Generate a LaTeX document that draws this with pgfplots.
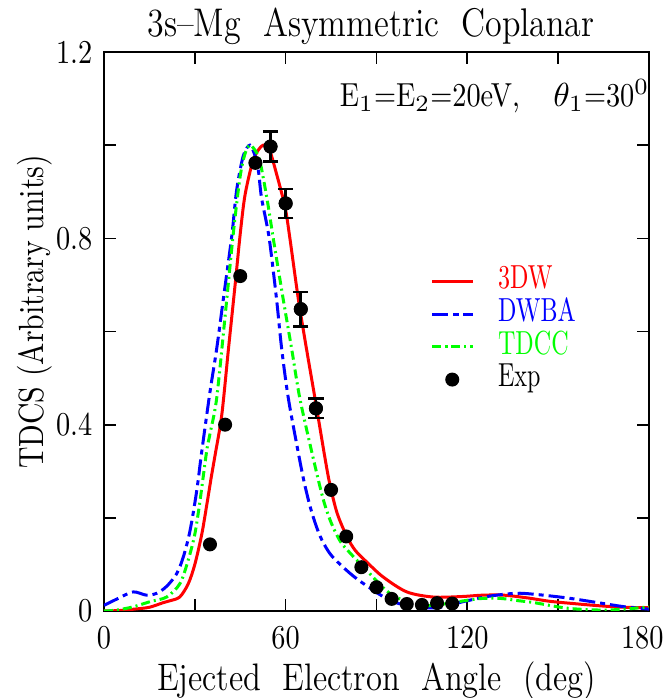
\documentclass[border=0pt]{standalone}
\usepackage{fontspec}
\setmainfont{Latin Modern Roman}[FakeStretch=0.85]
\usepackage{graphicx}
\usepackage{pgfplots}
\pgfplotsset{compat=1.18}
\newcommand{\narrow}[1]{\scalebox{0.85}[1]{#1}}
\begin{document}
\begin{tikzpicture}
\begin{axis}[
  scale only axis, width=163.5pt, height=167.7pt,
  xmin=0, xmax=180, ymin=0, ymax=1.2,
  clip mode=individual,
  xtick={0,30,60,90,120,150,180}, xticklabels={0,,60,,120,,\hspace*{-4pt}180},
  ytick={0,0.2,0.4,0.6,0.8,1.0,1.2}, yticklabels={0,,0.4,,0.8,,1.2},
  tick align=inside, major tick length=3.6pt,
  axis line style={line width=0.6pt},
  every tick/.style={black, line width=0.5pt},
  tick label style={font=\fontsize{10}{12}\selectfont},
  xticklabel style={yshift=-1.2pt},
  xlabel={Ejected\ \ Electron\ \ Angle\ \ (deg)},
  ylabel={TDCS (Arbitrary units)},
  xlabel style={font=\fontsize{11.5}{13}\selectfont, at={(axis description cs:0.5,0)}, anchor=base, yshift=-23.9pt},
  ylabel style={font=\fontsize{10.5}{13}\selectfont, at={(axis description cs:-0.127,0.535)}, anchor=center},
  title={3s--Mg\ \ Asymmetric\ \ Coplanar},
  title style={font=\fontsize{12}{14}\selectfont, at={(axis description cs:0.49,1)}, anchor=base, yshift=-1.2pt},
  legend style={at={(axis cs:104.4,0.758)}, anchor=north west, draw=none, fill=none,
    font=\fontsize{10}{10}\selectfont, row sep=0pt,
    nodes={inner ysep=0pt, inner xsep=0pt, text height=7.1pt, text depth=2.7pt},
    /tikz/every odd column/.append style={column sep=7.3pt}},
  legend cell align=left,
  legend image code/.code={\draw[mark repeat=2,mark phase=2,#1] plot coordinates {(0pt,0pt) (6pt,0pt) (12pt,0pt)};},
]
% 3DW
\addplot[red, line width=0.9pt, smooth] coordinates {
(0,0) (5,0.001) (10,0.004) (15,0.008) (19.6,0.018) (21.8,0.022) (25,0.03) (27.8,0.058)
(30,0.10) (32.3,0.165) (34,0.23) (35.5,0.29) (36.7,0.335) (38.9,0.421) (41.1,0.562)
(43.3,0.70) (45,0.81) (46.5,0.89) (48.7,0.955) (50.5,0.985) (52.6,1.0) (54.5,0.993)
(57,0.938) (59.8,0.867) (61.4,0.80) (64.2,0.669) (66.9,0.562) (69.7,0.456) (73,0.328)
(74.6,0.272) (77,0.21) (80.2,0.16) (83,0.13) (86.8,0.105) (92.2,0.073) (100,0.041)
(108.7,0.030) (118,0.031) (125,0.034) (132,0.034) (140,0.028) (147,0.021) (155,0.016)
(164,0.011) (172,0.008) (180,0.007)
};
\addlegendentry{\narrow{\textcolor{red}{3DW}}}
% DWBA
\addplot[blue, line width=0.9pt, smooth, dash pattern=on 4.8pt off 1.5pt on 1.5pt off 1.5pt] coordinates {
(0,0.012) (5,0.028) (9.7,0.041) (14,0.034) (17.4,0.038) (20.7,0.053) (24,0.08)
(26.2,0.116) (28.4,0.172) (30.6,0.257) (32.3,0.343) (35,0.47) (37.2,0.562) (39.4,0.669)
(42.2,0.805) (43.8,0.903) (46,0.977) (48.2,1.0) (50,0.975) (51,0.945) (52,0.888)
(53.7,0.832) (54.8,0.789) (57,0.669) (58.7,0.562) (60.9,0.456) (64.2,0.339) (66,0.28)
(68,0.226) (70,0.184) (72,0.152) (75,0.12) (80,0.088) (85,0.062) (94.4,0.023) (103,0.008)
(111,0.008) (118.6,0.02) (127.5,0.032) (136,0.038) (142,0.036) (153,0.028) (164,0.017)
(172,0.009) (180,0.004)
};
\addlegendentry{\narrow{\textcolor{blue}{DWBA}}}
% TDCC
\addplot[green, line width=0.9pt, smooth, dash pattern=on 2.7pt off 1.2pt on 0.6pt off 1.2pt] coordinates {
(0,0) (4.2,0.002) (9.7,0.009) (15.2,0.02) (20.7,0.03) (25.1,0.059) (27.8,0.109) (30,0.165)
(31.7,0.236) (33.9,0.343) (35,0.38) (37.2,0.456) (40,0.633) (42.7,0.81) (44.9,0.93)
(46.5,0.98) (48.2,1.0) (50.4,0.984) (51.5,0.965) (52.6,0.93) (54.3,0.867) (55.9,0.80)
(59.2,0.669) (62,0.562) (64.7,0.456) (69.1,0.328) (72.4,0.24) (75,0.19) (78,0.15)
(81.2,0.125) (86.8,0.087) (94.4,0.038) (103,0.013) (109,0.012) (114,0.017) (120,0.023)
(125,0.027) (131,0.027) (137,0.022) (142,0.018) (153,0.006) (164,0.002) (172,0.004)
(180,0.009)
};
\addlegendentry{\narrow{\textcolor{green}{TDCC}}}
% Exp error bars
\addplot[black, only marks, mark=*, mark size=1.9pt, forget plot,
  error bars/.cd, y dir=both, y explicit,
  error bar style={line width=0.8pt},
  error mark options={rotate=90, mark size=2.3pt, line width=0.8pt}] coordinates {
(55,0.997) +- (0,0.032) (60,0.875) +- (0,0.031) (65,0.648) +- (0,0.037) (70,0.435) +- (0,0.021)
};
% Exp
\addplot[black, only marks, mark=*, mark size=1.9pt] coordinates {
(35,0.143) (40,0.40) (45,0.719) (50,0.962) (55,0.997) (60,0.875) (65,0.648) (70,0.435)
(75,0.26) (80,0.16) (85,0.094) (90,0.051) (95,0.026) (100,0.015) (105,0.013)
(110,0.017) (115,0.016)
};
\addlegendentry{\narrow{Exp}}
\node[anchor=base west, font=\fontsize{10}{12}\selectfont] at (axis cs:74,1.082)
  {E$_1$=E$_2$=20eV,\quad $\theta_1$=30$^0$};
\end{axis}
\pgfresetboundingbox
\useasboundingbox ([xshift=-31.2pt,yshift=-26.1pt]current axis.south west)
  rectangle ([xshift=4.8pt,yshift=15.6pt]current axis.north east);
\end{tikzpicture}
\end{document}
